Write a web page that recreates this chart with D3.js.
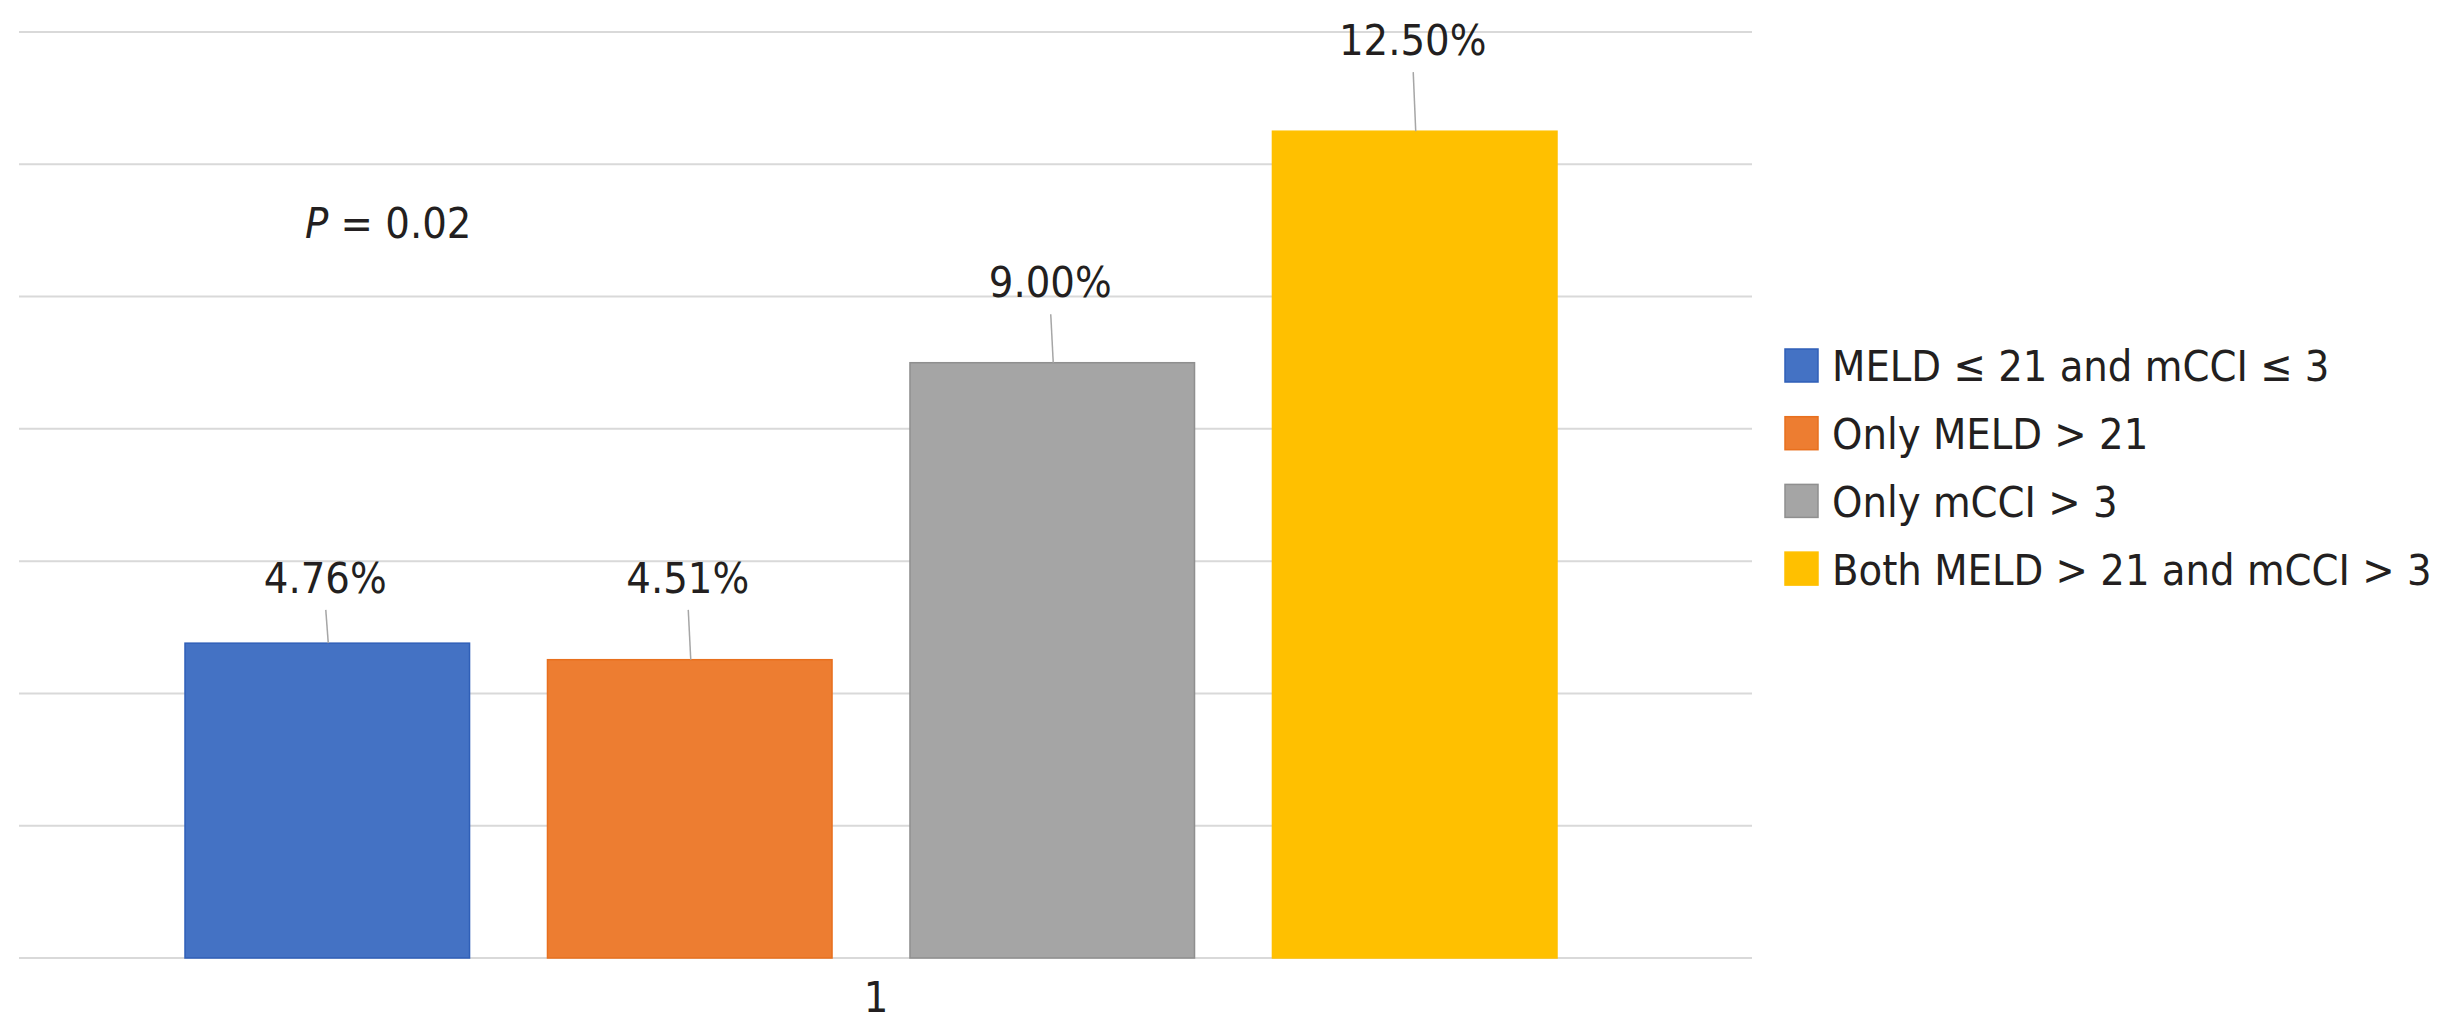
<!DOCTYPE html>
<html>
<head>
<meta charset="utf-8">
<script src="https://cdn.jsdelivr.net/npm/d3@7"></script>
<style>
  html, body { margin: 0; padding: 0; background: #fff; }
  svg { display: block; }
  text { font-family: "DejaVu Sans", Verdana, sans-serif; fill: #231f20; font-stretch: semi-condensed; }
</style>
</head>
<body>
<svg id="chart" width="2445" height="1033"></svg>
<script>
// ---- data ----
const categories = ["1"];
const seriesNames = [
  "MELD \u2264 21 and mCCI \u2264 3",
  "Only MELD > 21",
  "Only mCCI > 3",
  "Both MELD > 21 and mCCI > 3"
];
const seriesValues = [4.76, 4.51, 9.00, 12.50];
const valueLabels = ["4.76%", "4.51%", "9.00%", "12.50%"];
// where each (manually placed) data label sits, in value units
const labelAt = [5.52, 5.52, 9.99, 13.65];
const yTicks = [0, 2, 4, 6, 8, 10, 12, 14];
const colors = ["#4472C4", "#ED7D31", "#A5A5A5", "#FFC000"];
const edges = ["#2F5FB8", "#E8701E", "#8F8F8F", "#FFC000"];
const annotation = { italic: "P", rest: " = 0.02" };

// ---- layout ----
const svg = d3.select("#chart");
const plot = { left: 19, right: 1752, top: 32, bottom: 958 };
const fontSize = 43;

const y = d3.scaleLinear().domain([0, 14]).range([plot.bottom, plot.top]);
const xCat = d3.scaleBand().domain(categories).range([0, plot.right]);
const xSer = d3.scaleBand().domain(seriesNames).range([185, 1557]).paddingInner(0.215).paddingOuter(0);

// gridlines
svg.append("g").selectAll("line").data(yTicks).join("line")
  .attr("x1", plot.left).attr("x2", plot.right)
  .attr("y1", d => y(d)).attr("y2", d => y(d))
  .attr("stroke", "#D9D9D9").attr("stroke-width", 2);

// bars
const rows = seriesNames.map((s, i) => ({ name: s, value: seriesValues[i], label: valueLabels[i], at: labelAt[i], color: colors[i], edge: edges[i] }));

svg.append("g").selectAll("rect").data(rows).join("rect")
  .attr("x", d => xSer(d.name))
  .attr("y", d => y(d.value))
  .attr("width", xSer.bandwidth())
  .attr("height", d => y(0) - y(d.value))
  .attr("fill", d => d.color)
  .attr("stroke", d => d.edge)
  .attr("stroke-width", 1.5);

// leader lines
svg.append("g").selectAll("line").data(rows).join("line")
  .attr("x1", d => xSer(d.name) + xSer.bandwidth() / 2 - 1.5)
  .attr("x2", d => xSer(d.name) + xSer.bandwidth() / 2 + 1)
  .attr("y1", d => y(d.at) + 17)
  .attr("y2", d => y(d.value))
  .attr("stroke", "#A6A6A6").attr("stroke-width", 1.5);

// value labels
svg.append("g").selectAll("text").data(rows).join("text")
  .attr("x", d => xSer(d.name) + xSer.bandwidth() / 2 - 2)
  .attr("y", d => y(d.at))
  .attr("text-anchor", "middle")
  .attr("font-size", fontSize)
  .text(d => d.label);

// category label
svg.append("g").selectAll("text").data(categories).join("text")
  .attr("x", d => xCat(d) + xCat.bandwidth() / 2)
  .attr("y", 1012)
  .attr("text-anchor", "middle")
  .attr("font-size", fontSize)
  .text(d => d);

// P annotation
const pt = svg.append("text").attr("x", 305).attr("y", 238).attr("font-size", fontSize);
pt.append("tspan").attr("font-style", "italic").text(annotation.italic);
pt.append("tspan").text(annotation.rest);

// legend
const legend = svg.append("g").attr("transform", "translate(1785,366)");
const item = legend.selectAll("g").data(rows).join("g")
  .attr("transform", (d, i) => `translate(0,${i * 67.7})`);
item.append("rect")
  .attr("x", 0).attr("y", -17).attr("width", 33).attr("height", 33)
  .attr("fill", d => d.color).attr("stroke", d => d.edge).attr("stroke-width", 1.5);
item.append("text")
  .attr("x", 47).attr("y", 0).attr("dy", "0.36em")
  .attr("font-size", fontSize)
  .text(d => d.name);
</script>
</body>
</html>
